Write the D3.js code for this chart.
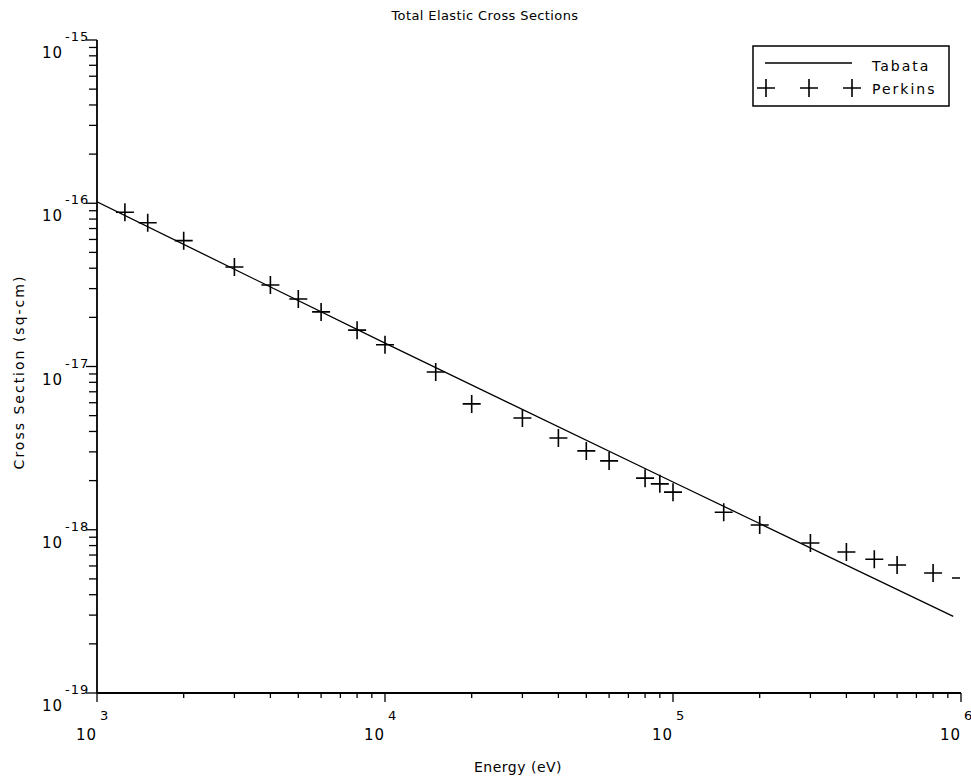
<!DOCTYPE html>
<html>
<head>
<meta charset="utf-8">
<script src="https://cdn.jsdelivr.net/npm/d3@7"></script>
<style>
  body { margin: 0; background: #fff; }
  text { font-family: "DejaVu Sans", sans-serif; fill: #000; }
</style>
</head>
<body>
<svg id="chart" width="971" height="779"></svg>
<script>
// Tabata fit line (energy eV, cross section sq-cm)
const tabataE = [1000, 10000, 100000, 940000];
const tabataS = [1.02e-16, 1.39e-17, 1.96e-18, 2.95e-19];

// Perkins data points
const perkinsE = [1250, 1500, 2000, 3000, 4000, 5000, 6000, 8000, 10000, 15000, 20000, 30000, 40000,
    50000, 60000, 80000, 90000, 100000, 150000, 200000, 300000, 400000, 500000, 600000, 800000, 1000000];
const perkinsS = [8.8e-17, 7.6e-17, 5.9e-17, 4.07e-17, 3.16e-17, 2.59e-17, 2.16e-17, 1.67e-17, 1.36e-17,
    9.25e-18, 5.9e-18, 4.84e-18, 3.65e-18, 3.04e-18, 2.64e-18, 2.07e-18, 1.91e-18, 1.7e-18, 1.28e-18,
    1.07e-18, 8.3e-19, 7.3e-19, 6.6e-19, 6.08e-19, 5.43e-19, 5.06e-19];

const xDecades = [3, 4, 5, 6];
const yDecades = [-15, -16, -17, -18, -19];
const seriesNames = ["Tabata", "Perkins"];

const svg = d3.select("#chart"),
    margin = { top: 40, left: 97 },
    plotW = 864, plotH = 653;

const g = svg.append("g").attr("transform", `translate(${margin.left},${margin.top})`);

const x = d3.scaleLog().domain([1e3, 1e6]).range([0, plotW]);
const y = d3.scaleLog().domain([1e-19, 1e-15]).range([plotH, 0]);

// minor ticks (2..9 in each decade)
const xMinor = [];
xDecades.slice(0, -1).forEach(d => { for (let k = 2; k <= 9; k++) xMinor.push(k * Math.pow(10, d)); });
const yMinor = [];
yDecades.slice(1).forEach(d => { for (let k = 2; k <= 9; k++) yMinor.push(k * Math.pow(10, d)); });

g.selectAll(".xminor").data(xMinor).enter().append("line")
    .attr("x1", d => x(d)).attr("x2", d => x(d))
    .attr("y1", plotH).attr("y2", plotH + 5)
    .attr("stroke", "#000").attr("stroke-width", 1.3);
g.selectAll(".xmajor").data(xDecades).enter().append("line")
    .attr("x1", d => x(Math.pow(10, d))).attr("x2", d => x(Math.pow(10, d)))
    .attr("y1", plotH).attr("y2", plotH + 9)
    .attr("stroke", "#000").attr("stroke-width", 1.3);
g.selectAll(".yminor").data(yMinor).enter().append("line")
    .attr("x1", -8).attr("x2", 0)
    .attr("y1", d => y(d)).attr("y2", d => y(d))
    .attr("stroke", "#000").attr("stroke-width", 1.3);
g.selectAll(".ymajor").data(yDecades).enter().append("line")
    .attr("x1", -11).attr("x2", 0)
    .attr("y1", d => y(Math.pow(10, d))).attr("y2", d => y(Math.pow(10, d)))
    .attr("stroke", "#000").attr("stroke-width", 1.3);

// axis lines
g.append("line").attr("x1", 0).attr("x2", 0).attr("y1", 0).attr("y2", plotH)
    .attr("stroke", "#000").attr("stroke-width", 1.8);
g.append("line").attr("x1", 0).attr("x2", plotW).attr("y1", plotH).attr("y2", plotH)
    .attr("stroke", "#000").attr("stroke-width", 1.8);

// tick labels: "10" with exponent
xDecades.forEach(d => {
    const px = x(Math.pow(10, d));
    g.append("text").attr("x", px).attr("y", plotH + 47).attr("text-anchor", "end")
        .style("font-size", "15px").style("letter-spacing", "1px").text("10");
    g.append("text").attr("x", px + 3).attr("y", plotH + 27)
        .style("font-size", "13px").text(d);
});
yDecades.forEach(d => {
    const py = y(Math.pow(10, d));
    g.append("text").attr("x", -34).attr("y", py + 18).attr("text-anchor", "end")
        .style("font-size", "15px").style("letter-spacing", "1px").text("10");
    g.append("text").attr("x", -32).attr("y", py + 1)
        .style("font-size", "13px").style("letter-spacing", "1px").text(d);
});

// clip for data
svg.append("defs").append("clipPath").attr("id", "clip")
    .append("rect").attr("x", 0).attr("y", 0).attr("width", plotW - 1).attr("height", plotH);

const plot = g.append("g").attr("clip-path", "url(#clip)");

const tabata = tabataE.map((e, i) => ({ e: e, s: tabataS[i] }));
const perkins = perkinsE.map((e, i) => ({ e: e, s: perkinsS[i] }));

plot.append("path").datum(tabata)
    .attr("fill", "none").attr("stroke", "#000").attr("stroke-width", 1.3)
    .attr("d", d3.line().x(d => x(d.e)).y(d => y(d.s)));

function drawPlus(sel, cx, cy) {
    sel.append("path")
        .attr("d", `M${cx - 9},${cy}H${cx + 9}M${cx},${cy - 9}V${cy + 9}`)
        .attr("stroke", "#000").attr("stroke-width", 1.6).attr("fill", "none");
}
perkins.forEach(d => drawPlus(plot, x(d.e), y(d.s)));

// legend
const lg = svg.append("g");
lg.append("rect").attr("x", 753).attr("y", 46).attr("width", 196).attr("height", 60)
    .attr("fill", "#fff").attr("stroke", "#000").attr("stroke-width", 1.5);
lg.append("line").attr("x1", 765).attr("x2", 852).attr("y1", 63).attr("y2", 63)
    .attr("stroke", "#000").attr("stroke-width", 1.3);
[766, 809, 852].forEach(px => drawPlus(lg, px, 88));
lg.append("text").attr("x", 872).attr("y", 71).style("font-size", "14px")
    .style("letter-spacing", "2px").text(seriesNames[0]);
lg.append("text").attr("x", 872).attr("y", 94).style("font-size", "14px")
    .style("letter-spacing", "2px").text(seriesNames[1]);

// titles
svg.append("text").attr("x", 485).attr("y", 20).attr("text-anchor", "middle")
    .style("font-size", "13px").style("letter-spacing", "0.4px").text("Total Elastic Cross Sections");
svg.append("text").attr("x", 518).attr("y", 772).attr("text-anchor", "middle")
    .style("font-size", "14px").style("letter-spacing", "0.5px").text("Energy (eV)");
svg.append("text").attr("transform", "translate(24,372) rotate(-90)").attr("text-anchor", "middle")
    .style("font-size", "14px").style("letter-spacing", "2px").text("Cross Section (sq-cm)");
</script>
</body>
</html>
